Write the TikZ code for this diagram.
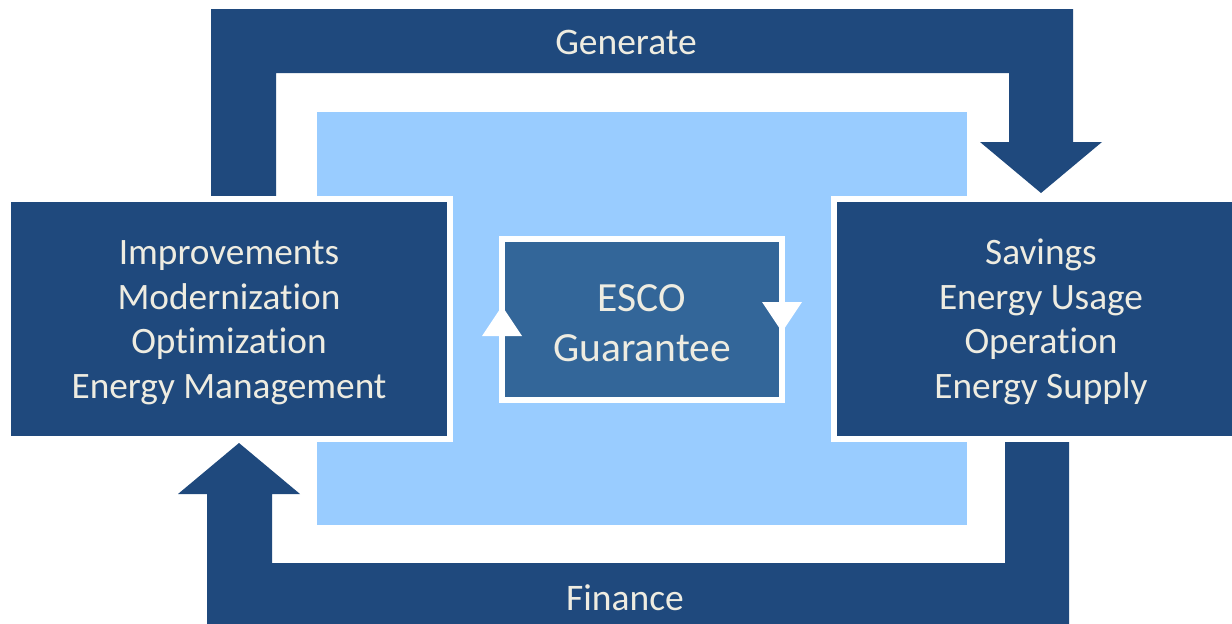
\documentclass[tikz,border=0pt]{standalone}
\usepackage{fontspec}
\setmainfont{Carlito}[Ligatures=NoCommon]
\definecolor{darkblue}{HTML}{1F497D}
\definecolor{lightblue}{HTML}{99CCFF}
\definecolor{midblue}{HTML}{336699}
\definecolor{offwhite}{HTML}{EEECE1}
\begin{document}
\begin{tikzpicture}[x=1pt,y=-1pt,
  sidebox/.style={rectangle, fill=darkblue, draw=white, line width=6pt, inner sep=0pt,
    align=center, text=offwhite, font={\fontsize{37.3}{44.7}\selectfont}},
  escobox/.style={rectangle, fill=midblue, draw=white, line width=6pt, inner sep=0pt,
    align=center, text=offwhite, font={\fontsize{41.5}{50}\selectfont}},
  bigarrow/.style={fill=darkblue, draw=none},
  smalltip/.style={fill=white, draw=none},
  arrowlabel/.style={text=offwhite, font={\fontsize{37.5}{44}\selectfont}, inner sep=0pt}]
\clip (0,0) rectangle (1232,624);
\fill[white] (0,0) rectangle (1232,624);
% light blue background area
\fill[lightblue] (317,112) rectangle (967,525);
% top arrow (Generate)
\fill[bigarrow] (211,210) -- (211,9) -- (1073,9) -- (1073,142) -- (1102,142) -- (1041,193)
  -- (980,142) -- (1009,142) -- (1009,73) -- (276,73) -- (276,210) -- cycle;
% bottom arrow (Finance)
\fill[bigarrow] (207,640) -- (207,494) -- (178,494) -- (239,443) -- (300,494) -- (272,494)
  -- (272,563) -- (1005,563) -- (1005,430) -- (1069,430) -- (1069,640) -- cycle;
% side boxes
\node[sidebox, minimum width=442pt, minimum height=240pt] (impr) at (229,319)
  {\strut Improvements\\Modernization\\Optimization\\Energy Management};
\node[sidebox, minimum width=414pt, minimum height=240pt] (sav) at (1041,319)
  {\strut Savings\\Energy Usage\\Operation\\Energy Supply};
% ESCO box
\node[escobox, minimum width=280pt, minimum height=161pt] (esco) at (642,319.5)
  {\strut ESCO\\Guarantee};
% small arrow heads on the ESCO frame
\fill[smalltip] (482,336) -- (522,336) -- (502,306) -- cycle;
\fill[smalltip] (762,302) -- (802,302) -- (782,332) -- cycle;
% labels
\node[arrowlabel] (gen) at (626,42) {Generate};
\node[arrowlabel] (fin) at (625,598) {Finance};
\end{tikzpicture}
\end{document}
